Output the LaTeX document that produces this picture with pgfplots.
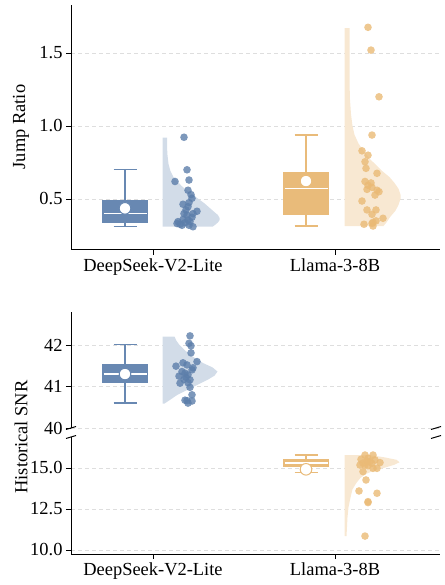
\documentclass[border=0pt]{standalone}
\usepackage{fontspec}
\setmainfont{Liberation Serif}
\usepackage{pgfplots}
\pgfplotsset{compat=1.18}

\definecolor{bl}{RGB}{104,136,178}
\definecolor{bll}{RGB}{210,220,232}
\definecolor{blp}{RGB}{92,126,170}
\definecolor{orc}{RGB}{233,187,122}
\definecolor{orl}{RGB}{248,232,210}
\definecolor{orp}{RGB}{234,186,118}

\pgfplotsset{
 base/.style={scale only axis, width=369bp, xmin=-82, xmax=287,
  axis y line*=left, tick align=outside, major tick length=5bp,
  ymajorgrids, grid style={dash pattern=on 4bp off 3bp, black!13, line width=0.6bp},
  axis line style={-, line width=1bp, black}, tick style={line width=0.8bp, black},
  ticklabel style={font=\fontsize{18.5}{21}\selectfont},
  /pgf/number format/assume math mode=true,
  xtick={0,182}, xticklabels={DeepSeek-V2-Lite, Llama-3-8B}},
 dec/.style={yticklabel style={/pgf/number format/fixed, /pgf/number format/fixed zerofill, /pgf/number format/precision=1}},
 bpts/.style={only marks, mark=*, mark size=3.8bp, color=blp, mark options={draw opacity=0, fill=blp, fill opacity=0.8}},
 opts/.style={only marks, mark=*, mark size=3.8bp, color=orp, mark options={draw opacity=0, fill=orp, fill opacity=0.8}},
 bmean/.style={only marks, mark=*, mark size=5.8bp, color=bl, mark options={fill=white, draw=bl, line width=1bp}},
 omean/.style={only marks, mark=*, mark size=5.8bp, color=orc, mark options={fill=white, draw=orc, line width=1bp}},
 bline/.style={bl, line width=1.2bp, mark=none},
 oline/.style={orc, line width=1.2bp, mark=none},
 med/.style={white, line width=1.6bp, mark=none},
}

\begin{document}
\begin{tikzpicture}
\useasboundingbox (0bp,0bp) rectangle (445bp,585bp);

% ---------------- Top panel: Jump Ratio ----------------
\begin{axis}[base, dec, at={(71bp,335bp)}, anchor=south west, height=245bp,
  axis x line*=bottom, ymin=0.1507, ymax=1.8288, ytick={0.5,1.0,1.5}]
% violins
\addplot[fill=bll, draw=none] coordinates {(9.5,0.31) (59.5,0.31) (62.5,0.325) (65,0.34) (66.5,0.355) (66.5,0.37) (65,0.39) (61.5,0.41) (56.5,0.44) (51.5,0.47) (45.5,0.50) (39.5,0.53) (33.5,0.56) (28.5,0.59) (24.5,0.62) (20.5,0.65) (17.5,0.69) (15.5,0.74) (14.5,0.80) (14,0.86) (14,0.92) (9.5,0.92)} -- cycle;
\addplot[fill=orl, draw=none] coordinates {(191.5,0.315) (230.5,0.315) (233.5,0.34) (237.5,0.38) (242.5,0.42) (245.5,0.46) (247.5,0.50) (247.5,0.53) (245.5,0.57) (241.5,0.61) (236.5,0.65) (229.5,0.69) (223.5,0.73) (217.5,0.77) (211.5,0.82) (205.5,0.88) (201.5,0.94) (199.5,1.00) (198,1.08) (197,1.18) (196.5,1.30) (196.5,1.45) (196.5,1.67) (191.5,1.67)} -- cycle;
% DeepSeek box
\addplot[bline] coordinates {(-28,0.31) (-28,0.703)};
\addplot[bline] coordinates {(-39.5,0.703) (-16.5,0.703)};
\addplot[bline] coordinates {(-39.5,0.31) (-16.5,0.31)};
\addplot[bline, fill=bl] coordinates {(-50.5,0.338) (-5.5,0.338) (-5.5,0.488) (-50.5,0.488)} -- cycle;
\addplot[med] coordinates {(-49.5,0.40) (-6.5,0.40)};
% Llama box
\addplot[oline] coordinates {(153,0.315) (153,0.938)};
\addplot[oline] coordinates {(141.5,0.938) (164.5,0.938)};
\addplot[oline] coordinates {(141.5,0.315) (164.5,0.315)};
\addplot[oline, fill=orc] coordinates {(130.5,0.395) (175.5,0.395) (175.5,0.683) (130.5,0.683)} -- cycle;
\addplot[med] coordinates {(131.5,0.573) (174.5,0.573)};
% points
\addplot[bpts] table[row sep=\\, x=dx, y=v] {
dx v\\ 31 0.923\\ 34 0.70\\ 22 0.62\\ 36 0.63\\ 35 0.56\\ 38 0.53\\ 39 0.505\\ 36 0.475\\ 30 0.464\\ 44 0.416\\ 33 0.425\\ 35 0.447\\ 39 0.375\\ 25 0.345\\ 29 0.32\\ 40 0.31\\ 35 0.356\\ 32 0.338\\ 24 0.332\\ 37 0.345\\ 30 0.36\\ 27 0.327\\ 34 0.39\\ 40 0.40\\ 36 0.32\\ 31 0.40\\
};
\addplot[opts] table[row sep=\\, x expr=\thisrow{dx}+182, y=v] {
dx v\\ 33 1.676\\ 36 1.52\\ 44 1.20\\ 37 0.938\\ 27 0.83\\ 33 0.80\\ 30 0.755\\ 31 0.71\\ 42 0.676\\ 30 0.62\\ 36 0.61\\ 33 0.594\\ 37 0.58\\ 32 0.566\\ 42 0.56\\ 44 0.55\\ 40 0.527\\ 27 0.486\\ 32 0.425\\ 41 0.425\\ 37 0.395\\ 48 0.368\\ 41 0.35\\ 37 0.333\\ 29 0.327\\ 38 0.315\\ 38 0.34\\
};
% means
\addplot[bmean] coordinates {(-28,0.436)};
\addplot[omean] coordinates {(153,0.623)};
\end{axis}

% ---------------- Bottom panel, upper part ----------------
\begin{axis}[base, at={(71bp,157bp)}, anchor=south west, height=116bp,
  axis x line=none, ymin=40, ymax=42.795, ytick={40,41,42}]
\addplot[fill=bll, draw=none] coordinates {(9.5,40.59) (11.5,40.59) (16.5,40.67) (24.5,40.80) (34.5,40.92) (44.5,41.04) (54.5,41.16) (61.5,41.26) (64.5,41.36) (59.5,41.46) (50.5,41.56) (43.5,41.66) (37.5,41.76) (31.5,41.88) (26.5,42.0) (23.5,42.1) (21.5,42.2) (9.5,42.2)} -- cycle;
\addplot[bline] coordinates {(-28,40.60) (-28,42.02)};
\addplot[bline] coordinates {(-39.5,42.02) (-16.5,42.02)};
\addplot[bline] coordinates {(-39.5,40.60) (-16.5,40.60)};
\addplot[bline, fill=bl] coordinates {(-50.5,41.09) (-5.5,41.09) (-5.5,41.52) (-50.5,41.52)} -- cycle;
\addplot[med] coordinates {(-49.5,41.30) (-6.5,41.30)};
\addplot[bpts] table[row sep=\\, x=dx, y=v] {
dx v\\ 37 42.22\\ 36 42.04\\ 38 41.98\\ 38 41.81\\ 44 41.60\\ 30 41.57\\ 23 41.49\\ 34 41.52\\ 40 41.45\\ 39 41.40\\ 29 41.36\\ 32 41.32\\ 35 41.28\\ 26 41.25\\ 33 41.22\\ 37 41.16\\ 31 41.17\\ 27 41.08\\ 35 41.09\\ 37 40.98\\ 39 40.80\\ 32 40.67\\ 39 40.65\\ 35 40.60\\ 34 40.66\\
};
\addplot[bmean] coordinates {(-28,41.30)};
\end{axis}

% ---------------- Bottom panel, lower part ----------------
\begin{axis}[base, dec, at={(71bp,31bp)}, anchor=south west, height=117bp,
  axis x line*=bottom, ymin=9.756, ymax=16.89, ytick={10,12.5,15}]
\addplot[fill=orl, draw=none] coordinates {(191.5,10.85) (193.5,10.85) (194,11.4) (194.5,12.0) (195.5,12.6) (197.5,13.2) (199.5,13.7) (203.5,14.1) (207.5,14.4) (213.5,14.65) (221.5,14.85) (233.5,15.05) (241.5,15.2) (246.5,15.35) (243.5,15.5) (231.5,15.65) (216.5,15.79) (191.5,15.79)} -- cycle;
\addplot[oline] coordinates {(153,14.74) (153,15.79)};
\addplot[oline] coordinates {(141.5,15.79) (164.5,15.79)};
\addplot[oline] coordinates {(141.5,14.74) (164.5,14.74)};
\addplot[oline, fill=orc] coordinates {(130.5,15.08) (175.5,15.08) (175.5,15.49) (130.5,15.49)} -- cycle;
\addplot[med] coordinates {(131.5,15.30) (174.5,15.30)};
\addplot[opts] table[row sep=\\, x expr=\thisrow{dx}+182, y=v] {
dx v\\ 30 15.79\\ 38 15.79\\ 26 15.53\\ 33 15.59\\ 40 15.49\\ 45 15.33\\ 37 15.28\\ 25 15.18\\ 30 15.18\\ 33 15.14\\ 42 14.98\\ 38 14.98\\ 28 14.78\\ 31 14.27\\ 24 13.60\\ 42 13.46\\ 33 12.95\\ 33 12.89\\ 30 10.85\\ 35 15.40\\ 32 15.40\\ 28 15.30\\
};
\addplot[omean] coordinates {(153,14.92)};
\end{axis}

% axis break marks
\draw[line width=1bp] (66bp,155.5bp) -- (76bp,158.5bp);
\draw[line width=1bp] (66bp,146.5bp) -- (76bp,149.5bp);
\draw[line width=1bp] (431bp,155.5bp) -- (441bp,158.5bp);
\draw[line width=1bp] (431bp,146.5bp) -- (441bp,149.5bp);

% y labels
\node[rotate=90, font=\fontsize{18.5}{21}\selectfont] at (21bp,458bp) {Jump Ratio};
\node[rotate=90, font=\fontsize{18.5}{21}\selectfont] at (21bp,148bp) {Historical SNR};
\end{tikzpicture}
\end{document}
